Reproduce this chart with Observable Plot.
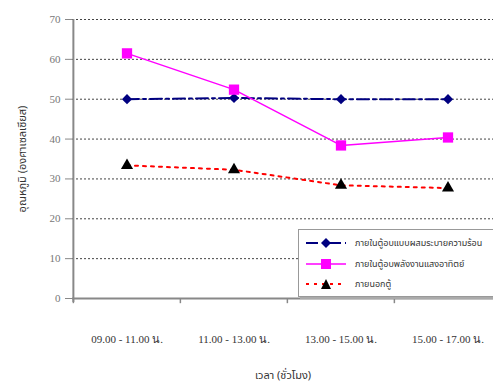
<!DOCTYPE html>
<html><head><meta charset="utf-8">
<script src="https://cdn.jsdelivr.net/npm/d3@7"></script>
<script src="https://cdn.jsdelivr.net/npm/@observablehq/plot@0.6"></script>
<style>
body{margin:0;background:#fff}
#wrap{position:relative;width:493px;height:387px;overflow:hidden}
#legend{position:absolute;left:298px;top:229px;width:205px;height:66px;background:#fff;border:1px solid #999;box-shadow:2px 2px 0 #aaa;font-family:"Noto Sans Thai","Loma","Garuda",sans-serif;font-size:9px;color:#333}
.row{position:absolute;left:6px;height:18px;display:flex;align-items:center;white-space:nowrap}
.row svg{margin-right:8px}
</style></head><body><div id="wrap"></div>
<script>
const periods = ["09.00 - 11.00 น.", "11.00 - 13.00 น.", "13.00 - 15.00 น.", "15.00 - 17.00 น."];
const seriesNames = ["ภายในตู้อบแบบผสมระบายความร้อน", "ภายในตู้อบพลังงานแสงอาทิตย์", "ภายนอกตู้"];
const hybridTemps = [50, 50.3, 50, 50];
const solarTemps = [61.5, 52.4, 38.4, 40.4];
const outsideTemps = [33.4, 32.3, 28.4, 27.7];
const yTicks = [0, 10, 20, 30, 40, 50, 60, 70];
const xTitle = "เวลา (ชั่วโมง)";
const yTitle = "อุณหภูมิ (องศาเซลเซียส)";

const hybrid = periods.map((p, i) => ({period: p, temp: hybridTemps[i]}));
const solar = periods.map((p, i) => ({period: p, temp: solarTemps[i]}));
const outside = periods.map((p, i) => ({period: p, temp: outsideTemps[i]}));

const xRange = [72, 501];
const bw = (xRange[1] - xRange[0]) / periods.length;
const thaiFont = '"Noto Sans Thai","Loma","Garuda",sans-serif';

const chart = Plot.plot({
  width: 493, height: 387,
  marginLeft: 72, marginRight: 0, marginTop: 19, marginBottom: 89,
  style: {background: "#fff", fontFamily: "Liberation Serif"},
  x: {type: "band", domain: periods, range: xRange, padding: 0},
  y: {domain: [0, 70]},
  marks: [
    Plot.ruleY(yTicks.filter(v => v > 0), {stroke: "#444", strokeDasharray: "2,2", strokeWidth: 1}),
    Plot.ruleY([0], {stroke: "#888", strokeWidth: 2}),
    Plot.ruleX([periods[0]], {x: d => d, dx: -bw / 2, y1: -1, y2: 70, stroke: "#888", strokeWidth: 2}),
    Plot.ruleX(periods, {x: d => d, dx: -bw / 2, y1: 0, y2: -1.3, stroke: "#888", strokeWidth: 1.5}),
    Plot.axisY({ticks: yTicks, tickSize: 7, tickPadding: 5, stroke: "#888", fill: "#777", fontSize: 11, label: null}),
    Plot.axisX({tickSize: 0, tickPadding: 37, fill: "#333", fontSize: 11, label: null}),
    Plot.line(hybrid, {x: "period", y: "temp", stroke: "#000080", strokeWidth: 2, strokeDasharray: "12,4,3,4"}),
    Plot.line(solar, {x: "period", y: "temp", stroke: "#ff00ff", strokeWidth: 1.5}),
    Plot.line(outside, {x: "period", y: "temp", stroke: "#ff0000", strokeWidth: 2, strokeDasharray: "3,5"}),
    Plot.dot(hybrid, {x: "period", y: "temp", symbol: "diamond2", r: 4.6, fill: "#000080", stroke: "none"}),
    Plot.dot(solar, {x: "period", y: "temp", symbol: "square", r: 5.8, fill: "#ff00ff", stroke: "none"}),
    Plot.dot(outside, {x: "period", y: "temp", symbol: "triangle", r: 4.5, fill: "#000", stroke: "none"}),
    Plot.text([xTitle], {frameAnchor: "bottom", dy: 80, fontSize: 11, fill: "#333", fontFamily: thaiFont}),
    Plot.text([yTitle], {frameAnchor: "left", textAnchor: "middle", rotate: -90, dx: -50, fontSize: 11, fill: "#333", fontFamily: thaiFont})
  ]
});

const wrap = document.getElementById("wrap");
wrap.appendChild(chart);

const legend = document.createElement("div");
legend.id = "legend";
const samples = [
  `<line x1="1" y1="6" x2="41" y2="6" stroke="#000080" stroke-width="2" stroke-dasharray="12,4,3,4"/><path d="M21,1 L26,6 L21,11 L16,6Z" fill="#000080"/>`,
  `<line x1="1" y1="6" x2="41" y2="6" stroke="#ff00ff" stroke-width="1.5"/><rect x="16" y="1" width="10" height="10" fill="#ff00ff"/>`,
  `<line x1="1" y1="6" x2="41" y2="6" stroke="#ff0000" stroke-width="2" stroke-dasharray="3,5"/><path d="M21,1 L26,11 L16,11Z" fill="#000"/>`
];
seriesNames.forEach((name, i) => {
  const row = document.createElement("div");
  row.className = "row";
  row.style.top = (4 + i * 20.5) + "px";
  row.innerHTML = `<svg width="42" height="12">${samples[i]}</svg><span>${name}</span>`;
  legend.appendChild(row);
});
wrap.appendChild(legend);
</script>
</body></html>
